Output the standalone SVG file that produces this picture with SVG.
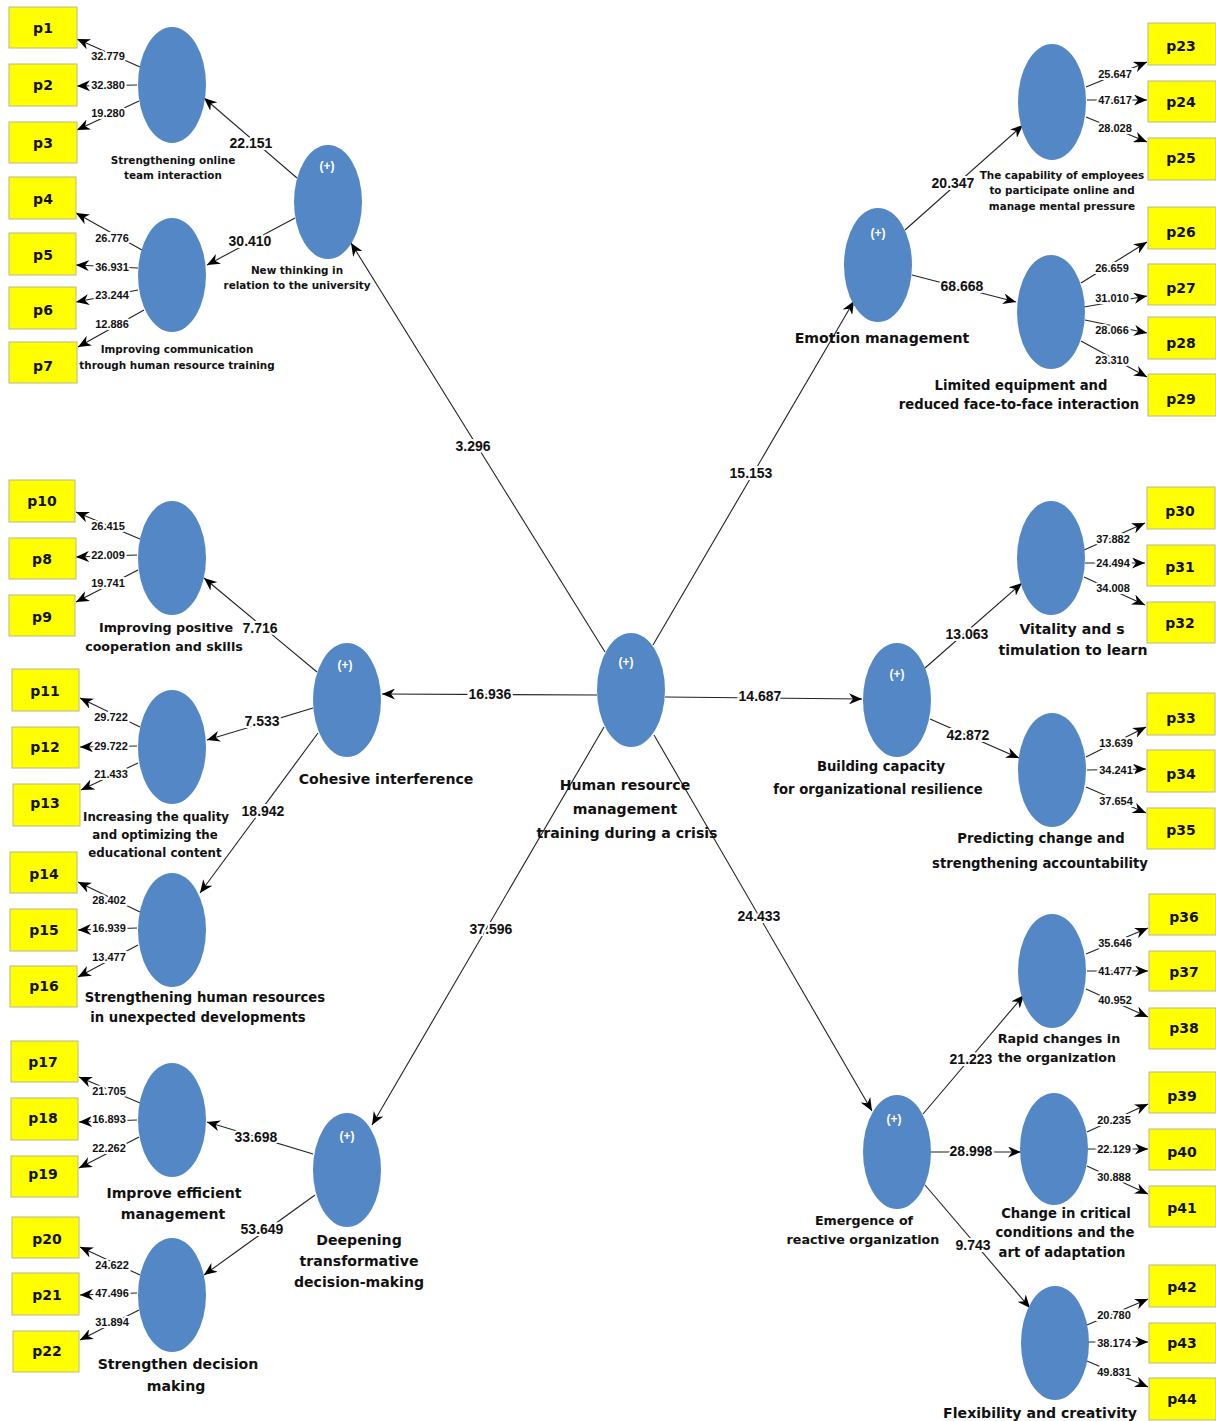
<svg xmlns="http://www.w3.org/2000/svg" width="1216" height="1421" viewBox="0 0 1216 1421">
<defs>
<marker id="ah" markerUnits="userSpaceOnUse" markerWidth="13" markerHeight="11" viewBox="0 0 13 11" refX="13" refY="5.5" orient="auto">
<path d="M0,0 L13,5.5 L0,11 L4,5.5 Z" fill="#000"/>
</marker>
<style>
text{font-family:"DejaVu Sans","Liberation Sans",Arial,sans-serif;font-weight:bold;fill:#111;text-anchor:middle;dominant-baseline:central}
.c line{stroke:#222;stroke-width:1.1;marker-end:url(#ah)}
.lv{font-family:"Liberation Sans",Arial,sans-serif;font-size:11px;stroke:#fff;stroke-width:4;paint-order:stroke}
.pv{font-family:"Liberation Sans",Arial,sans-serif;font-size:14px;stroke:#fff;stroke-width:4;paint-order:stroke}
.lat{fill:#5387C6}
.box rect{fill:#FFFF00;stroke:#B8B890;stroke-width:1}
.box text{font-size:14px}
.plus{fill:#fff;font-size:12px;font-family:"Liberation Sans",Arial,sans-serif}
.t11{font-size:10.4px}
.t125{font-size:11.8px}
.t13{font-size:12.7px}
.t14{font-size:13.2px}
.t15{font-size:14.1px}
</style>
</defs>
<rect width="1216" height="1421" fill="#fff"/>

<g id="connectors" class="c">
<line x1="605" y1="652" x2="351" y2="243"/>
<line x1="653" y1="645" x2="854" y2="301"/>
<line x1="597" y1="695" x2="382" y2="694"/>
<line x1="665" y1="697" x2="862" y2="699"/>
<line x1="604" y1="727" x2="372" y2="1125"/>
<line x1="654" y1="735" x2="872" y2="1111"/>
<line x1="297" y1="178" x2="204" y2="98"/>
<line x1="295" y1="218" x2="207" y2="265"/>
<line x1="905" y1="230" x2="1023" y2="125"/>
<line x1="912" y1="275" x2="1016" y2="302"/>
<line x1="317" y1="672" x2="204" y2="578"/>
<line x1="313" y1="708" x2="207" y2="740"/>
<line x1="318" y1="733" x2="200" y2="893"/>
<line x1="313" y1="1154" x2="207" y2="1122"/>
<line x1="315" y1="1195" x2="204" y2="1275"/>
<line x1="925" y1="668" x2="1022" y2="583"/>
<line x1="930" y1="719" x2="1019" y2="758"/>
<line x1="923" y1="1114" x2="1024" y2="995"/>
<line x1="931" y1="1152" x2="1021" y2="1152"/>
<line x1="925" y1="1185" x2="1030" y2="1308"/>
<line x1="140" y1="67" x2="77" y2="39"/>
<line x1="137" y1="85" x2="77" y2="86"/>
<line x1="139" y1="101" x2="77" y2="130"/>
<line x1="142" y1="250" x2="76" y2="213"/>
<line x1="138" y1="268" x2="76" y2="265"/>
<line x1="138" y1="290" x2="76" y2="302"/>
<line x1="144" y1="310" x2="78" y2="347"/>
<line x1="140" y1="539" x2="76" y2="512"/>
<line x1="137" y1="555" x2="76" y2="557"/>
<line x1="138" y1="570" x2="76" y2="602"/>
<line x1="140" y1="727" x2="80" y2="698"/>
<line x1="137" y1="746" x2="80" y2="747"/>
<line x1="138" y1="763" x2="81" y2="790"/>
<line x1="140" y1="912" x2="78" y2="882"/>
<line x1="137" y1="928" x2="78" y2="930"/>
<line x1="138" y1="945" x2="78" y2="977"/>
<line x1="140" y1="1103" x2="79" y2="1077"/>
<line x1="137" y1="1120" x2="79" y2="1122"/>
<line x1="139" y1="1137" x2="79" y2="1168"/>
<line x1="140" y1="1275" x2="80" y2="1247"/>
<line x1="137" y1="1293" x2="80" y2="1295"/>
<line x1="139" y1="1310" x2="80" y2="1340"/>
<line x1="1086" y1="87" x2="1147" y2="62"/>
<line x1="1087" y1="100" x2="1147" y2="100"/>
<line x1="1086" y1="117" x2="1147" y2="142"/>
<line x1="1081" y1="283" x2="1147" y2="242"/>
<line x1="1084" y1="307" x2="1147" y2="296"/>
<line x1="1085" y1="320" x2="1147" y2="333"/>
<line x1="1081" y1="341" x2="1147" y2="377"/>
<line x1="1084" y1="550" x2="1145" y2="523"/>
<line x1="1085" y1="563" x2="1145" y2="563"/>
<line x1="1084" y1="577" x2="1145" y2="605"/>
<line x1="1086" y1="757" x2="1146" y2="727"/>
<line x1="1087" y1="770" x2="1146" y2="769"/>
<line x1="1086" y1="787" x2="1146" y2="813"/>
<line x1="1086" y1="954" x2="1148" y2="928"/>
<line x1="1087" y1="971" x2="1148" y2="971"/>
<line x1="1086" y1="989" x2="1148" y2="1017"/>
<line x1="1087" y1="1132" x2="1148" y2="1104"/>
<line x1="1088" y1="1149" x2="1148" y2="1149"/>
<line x1="1087" y1="1166" x2="1148" y2="1194"/>
<line x1="1087" y1="1325" x2="1148" y2="1299"/>
<line x1="1088" y1="1342" x2="1148" y2="1342"/>
<line x1="1087" y1="1361" x2="1148" y2="1387"/>
</g>

<g id="connector-labels">
<text class="pv" x="473" y="446">3.296</text>
<text class="pv" x="751" y="473">15.153</text>
<text class="pv" x="490" y="694">16.936</text>
<text class="pv" x="760" y="696">14.687</text>
<text class="pv" x="491" y="929">37.596</text>
<text class="pv" x="759" y="916">24.433</text>
<text class="pv" x="251" y="143">22.151</text>
<text class="pv" x="250" y="241">30.410</text>
<text class="pv" x="953" y="183">20.347</text>
<text class="pv" x="962" y="286">68.668</text>
<text class="pv" x="260" y="628">7.716</text>
<text class="pv" x="262" y="721">7.533</text>
<text class="pv" x="263" y="811">18.942</text>
<text class="pv" x="256" y="1137">33.698</text>
<text class="pv" x="262" y="1229">53.649</text>
<text class="pv" x="967" y="634">13.063</text>
<text class="pv" x="968" y="735">42.872</text>
<text class="pv" x="971" y="1059">21.223</text>
<text class="pv" x="971" y="1151">28.998</text>
<text class="pv" x="973" y="1245">9.743</text>
<text class="lv" x="108" y="56">32.779</text>
<text class="lv" x="108" y="85">32.380</text>
<text class="lv" x="108" y="113">19.280</text>
<text class="lv" x="112" y="238">26.776</text>
<text class="lv" x="112" y="267">36.931</text>
<text class="lv" x="112" y="295">23.244</text>
<text class="lv" x="112" y="324">12.886</text>
<text class="lv" x="108" y="526">26.415</text>
<text class="lv" x="108" y="555">22.009</text>
<text class="lv" x="108" y="583">19.741</text>
<text class="lv" x="111" y="717">29.722</text>
<text class="lv" x="111" y="746">29.722</text>
<text class="lv" x="111" y="774">21.433</text>
<text class="lv" x="109" y="900">28.402</text>
<text class="lv" x="109" y="928">16.939</text>
<text class="lv" x="109" y="957">13.477</text>
<text class="lv" x="109" y="1091">21.705</text>
<text class="lv" x="109" y="1119">16.893</text>
<text class="lv" x="109" y="1148">22.262</text>
<text class="lv" x="112" y="1265">24.622</text>
<text class="lv" x="112" y="1293">47.496</text>
<text class="lv" x="112" y="1322">31.894</text>
<text class="lv" x="1115" y="74">25.647</text>
<text class="lv" x="1115" y="100">47.617</text>
<text class="lv" x="1115" y="128">28.028</text>
<text class="lv" x="1112" y="268">26.659</text>
<text class="lv" x="1112" y="298">31.010</text>
<text class="lv" x="1112" y="330">28.066</text>
<text class="lv" x="1112" y="360">23.310</text>
<text class="lv" x="1113" y="539">37.882</text>
<text class="lv" x="1113" y="563">24.494</text>
<text class="lv" x="1113" y="588">34.008</text>
<text class="lv" x="1116" y="743">13.639</text>
<text class="lv" x="1116" y="770">34.241</text>
<text class="lv" x="1116" y="801">37.654</text>
<text class="lv" x="1115" y="943">35.646</text>
<text class="lv" x="1115" y="971">41.477</text>
<text class="lv" x="1115" y="1000">40.952</text>
<text class="lv" x="1114" y="1120">20.235</text>
<text class="lv" x="1114" y="1149">22.129</text>
<text class="lv" x="1114" y="1177">30.888</text>
<text class="lv" x="1114" y="1315">20.780</text>
<text class="lv" x="1114" y="1343">38.174</text>
<text class="lv" x="1114" y="1372">49.831</text>
</g>

<g id="hrm"><ellipse class="lat" cx="631" cy="690" rx="34" ry="57"/><text class="plus" x="626" y="662">(+)</text>
<text class="t15" x="625" y="785">Human resource</text><text class="t15" x="625" y="809">management</text><text class="t15" x="627" y="833">training during a crisis</text></g>

<g id="new-thinking"><ellipse class="lat" cx="328" cy="202" rx="34" ry="57"/><text class="plus" x="327" y="166">(+)</text>
<text class="t11" x="297" y="270">New thinking in</text><text class="t11" x="297" y="285">relation to the university</text></g>
<g id="online-team"><ellipse class="lat" cx="172" cy="85" rx="34" ry="58"/>
<text class="t11" x="173" y="160">Strengthening online</text><text class="t11" x="173" y="175">team interaction</text></g>
<g id="communication"><ellipse class="lat" cx="172" cy="275" rx="34" ry="57"/>
<text class="t11" x="177" y="349">Improving communication</text><text class="t11" x="177" y="365">through human resource training</text></g>

<g id="emotion"><ellipse class="lat" cx="878" cy="265" rx="34" ry="57"/><text class="plus" x="878" y="233">(+)</text>
<text class="t15" x="882" y="338">Emotion management</text></g>
<g id="capability"><ellipse class="lat" cx="1052" cy="102" rx="34" ry="58"/>
<text class="t11" x="1062" y="175">The capability of employees</text><text class="t11" x="1062" y="190">to participate online and</text><text class="t11" x="1062" y="206">manage mental pressure</text></g>
<g id="limited"><ellipse class="lat" cx="1051" cy="312" rx="34" ry="57"/>
<text class="t14" x="1021" y="385">Limited equipment and</text><text class="t14" x="1019" y="404">reduced face-to-face interaction</text></g>

<g id="cohesive"><ellipse class="lat" cx="347" cy="700" rx="34" ry="57"/><text class="plus" x="345" y="665">(+)</text>
<text class="t15" x="386" y="779">Cohesive interference</text></g>
<g id="positive"><ellipse class="lat" cx="172" cy="558" rx="34" ry="57"/>
<text class="t13" x="166" y="627">Improving positive</text><text class="t13" x="164" y="646">cooperation and skills</text></g>
<g id="quality"><ellipse class="lat" cx="172" cy="747" rx="34" ry="57"/>
<text class="t125" x="156" y="817">Increasing the quality</text><text class="t125" x="155" y="835">and optimizing the</text><text class="t125" x="155" y="853">educational content</text></g>
<g id="hr-unexpected"><ellipse class="lat" cx="172" cy="930" rx="34" ry="57"/>
<text class="t14" x="205" y="997">Strengthening human resources</text><text class="t14" x="198" y="1017">in unexpected developments</text></g>

<g id="deepening"><ellipse class="lat" cx="347" cy="1170" rx="34" ry="57"/><text class="plus" x="347" y="1136">(+)</text>
<text class="t15" x="359" y="1240">Deepening</text><text class="t15" x="359" y="1261">transformative</text><text class="t15" x="359" y="1282">decision-making</text></g>
<g id="efficient"><ellipse class="lat" cx="172" cy="1120" rx="34" ry="57"/>
<text class="t15" x="174" y="1193">Improve efficient</text><text class="t15" x="173" y="1214">management</text></g>
<g id="decision"><ellipse class="lat" cx="172" cy="1295" rx="34" ry="57"/>
<text class="t15" x="178" y="1364">Strengthen decision</text><text class="t15" x="176" y="1386">making</text></g>

<g id="building"><ellipse class="lat" cx="897" cy="700" rx="34" ry="57"/><text class="plus" x="897" y="674">(+)</text>
<text class="t14" x="881" y="766">Building capacity</text><text class="t14" x="878" y="789">for organizational resilience</text></g>
<g id="vitality"><ellipse class="lat" cx="1051" cy="558" rx="34" ry="57"/>
<text class="t15" x="1072" y="629">Vitality and s</text><text class="t15" x="1073" y="650">timulation to learn</text></g>
<g id="predicting"><ellipse class="lat" cx="1052" cy="770" rx="34" ry="57"/>
<text class="t14" x="1041" y="838">Predicting change and</text><text class="t14" x="1040" y="863">strengthening accountability</text></g>

<g id="emergence"><ellipse class="lat" cx="897" cy="1152" rx="34" ry="57"/><text class="plus" x="894" y="1119">(+)</text>
<text class="t13" x="864" y="1220">Emergence of</text><text class="t13" x="863" y="1239">reactive organization</text></g>
<g id="rapid"><ellipse class="lat" cx="1052" cy="971" rx="34" ry="57"/>
<text class="t13" x="1059" y="1038">Rapid changes in</text><text class="t13" x="1057" y="1057">the organization</text></g>
<g id="critical"><ellipse class="lat" cx="1054" cy="1149" rx="34" ry="56"/>
<text class="t14" x="1066" y="1213">Change in critical</text><text class="t14" x="1065" y="1232">conditions and the</text><text class="t14" x="1062" y="1252">art of adaptation</text></g>
<g id="flexibility"><ellipse class="lat" cx="1055" cy="1343" rx="34" ry="57"/>
<text class="t15" x="1040" y="1413">Flexibility and creativity</text></g>

<g id="indicators" class="box">
<g id="p1"><rect x="9" y="7" width="68" height="41"/><text x="43" y="28">p1</text></g>
<g id="p2"><rect x="9" y="64" width="68" height="42"/><text x="43" y="85">p2</text></g>
<g id="p3"><rect x="9" y="122" width="68" height="41"/><text x="43" y="143">p3</text></g>
<g id="p4"><rect x="9" y="177" width="67" height="42"/><text x="43" y="199">p4</text></g>
<g id="p5"><rect x="9" y="233" width="67" height="42"/><text x="43" y="255">p5</text></g>
<g id="p6"><rect x="9" y="287" width="67" height="42"/><text x="43" y="310">p6</text></g>
<g id="p7"><rect x="9" y="342" width="68" height="41"/><text x="43" y="366">p7</text></g>
<g id="p10"><rect x="9" y="480" width="66" height="42"/><text x="42" y="501">p10</text></g>
<g id="p8"><rect x="9" y="538" width="67" height="41"/><text x="42" y="559">p8</text></g>
<g id="p9"><rect x="9" y="595" width="66" height="41"/><text x="42" y="617">p9</text></g>
<g id="p11"><rect x="12" y="669" width="67" height="42"/><text x="45" y="691">p11</text></g>
<g id="p12"><rect x="12" y="727" width="67" height="41"/><text x="45" y="747">p12</text></g>
<g id="p13"><rect x="13" y="784" width="67" height="42"/><text x="45" y="803">p13</text></g>
<g id="p14"><rect x="10" y="852" width="67" height="41"/><text x="44" y="874">p14</text></g>
<g id="p15"><rect x="10" y="909" width="67" height="42"/><text x="44" y="930">p15</text></g>
<g id="p16"><rect x="10" y="966" width="67" height="41"/><text x="44" y="986">p16</text></g>
<g id="p17"><rect x="11" y="1041" width="67" height="41"/><text x="43" y="1062">p17</text></g>
<g id="p18"><rect x="11" y="1098" width="67" height="42"/><text x="43" y="1118">p18</text></g>
<g id="p19"><rect x="11" y="1156" width="67" height="41"/><text x="43" y="1174">p19</text></g>
<g id="p20"><rect x="12" y="1217" width="67" height="41"/><text x="47" y="1239">p20</text></g>
<g id="p21"><rect x="12" y="1273" width="67" height="42"/><text x="47" y="1295">p21</text></g>
<g id="p22"><rect x="13" y="1331" width="66" height="41"/><text x="47" y="1351">p22</text></g>
<g id="p23"><rect x="1148" y="23" width="68" height="42"/><text x="1181" y="46">p23</text></g>
<g id="p24"><rect x="1148" y="81" width="68" height="41"/><text x="1181" y="102">p24</text></g>
<g id="p25"><rect x="1148" y="138" width="68" height="42"/><text x="1181" y="158">p25</text></g>
<g id="p26"><rect x="1148" y="207" width="68" height="42"/><text x="1181" y="232">p26</text></g>
<g id="p27"><rect x="1148" y="264" width="68" height="41"/><text x="1181" y="288">p27</text></g>
<g id="p28"><rect x="1148" y="317" width="68" height="42"/><text x="1181" y="343">p28</text></g>
<g id="p29"><rect x="1148" y="374" width="68" height="42"/><text x="1181" y="399">p29</text></g>
<g id="p30"><rect x="1147" y="487" width="68" height="42"/><text x="1180" y="511">p30</text></g>
<g id="p31"><rect x="1147" y="545" width="68" height="41"/><text x="1180" y="567">p31</text></g>
<g id="p32"><rect x="1147" y="602" width="68" height="41"/><text x="1180" y="623">p32</text></g>
<g id="p33"><rect x="1147" y="693" width="68" height="42"/><text x="1181" y="718">p33</text></g>
<g id="p34"><rect x="1147" y="750" width="68" height="42"/><text x="1181" y="774">p34</text></g>
<g id="p35"><rect x="1147" y="808" width="68" height="41"/><text x="1181" y="830">p35</text></g>
<g id="p36"><rect x="1149" y="894" width="67" height="41"/><text x="1184" y="917">p36</text></g>
<g id="p37"><rect x="1149" y="951" width="67" height="40"/><text x="1184" y="972">p37</text></g>
<g id="p38"><rect x="1149" y="1008" width="67" height="41"/><text x="1184" y="1028">p38</text></g>
<g id="p39"><rect x="1149" y="1072" width="67" height="41"/><text x="1182" y="1096">p39</text></g>
<g id="p40"><rect x="1149" y="1129" width="67" height="41"/><text x="1182" y="1152">p40</text></g>
<g id="p41"><rect x="1149" y="1186" width="67" height="41"/><text x="1182" y="1208">p41</text></g>
<g id="p42"><rect x="1149" y="1265" width="67" height="42"/><text x="1182" y="1287">p42</text></g>
<g id="p43"><rect x="1149" y="1323" width="67" height="40"/><text x="1182" y="1343">p43</text></g>
<g id="p44"><rect x="1149" y="1378" width="67" height="42"/><text x="1182" y="1399">p44</text></g>
</g>
</svg>
